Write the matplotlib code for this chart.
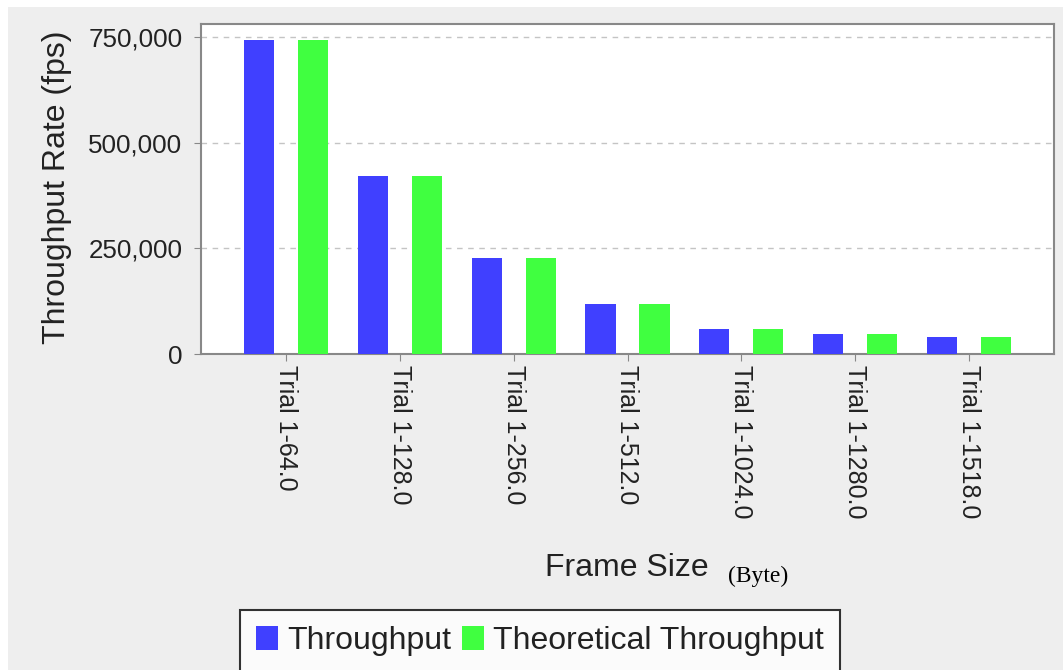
import numpy as np
from matplotlib import pyplot as plt
from matplotlib.patches import Rectangle
from matplotlib.ticker import FuncFormatter

categories = ["Trial 1-64.0", "Trial 1-128.0", "Trial 1-256.0", "Trial 1-512.0",
              "Trial 1-1024.0", "Trial 1-1280.0", "Trial 1-1518.0"]
throughput = [744047, 422297, 226449, 117481, 59866, 48076, 40637]
theoretical = [744047, 422297, 226449, 117481, 59866, 48076, 40637]

plt.rcParams['font.family'] = ['Liberation Sans', 'DejaVu Sans']
txt = '#222222'
W, H = 1063, 670

fig = plt.figure(figsize=(W / 100, H / 100), dpi=100, facecolor='white')
# grey panel with a thin white margin at top and left
fig.patches.append(Rectangle((8 / W, 0), 1 - 8 / W, 1 - 7 / H, transform=fig.transFigure,
                             facecolor='#eeeeee', edgecolor='none', zorder=-10))

ax = fig.add_axes([201 / W, 1 - 354 / H, (1054 - 201) / W, (354 - 24) / H])
ax.set_facecolor('white')

x = np.arange(len(categories))
bw = 0.264
off = 0.2375
ax.bar(x - off, throughput, bw, color='#4040ff', label='Throughput', zorder=3)
ax.bar(x + off, theoretical, bw, color='#40ff40', label='Theoretical Throughput', zorder=3)

ax.set_xlim(-0.75, len(categories) - 0.25)
ax.set_ylim(0, 780757)
ax.set_yticks([0, 250000, 500000, 750000])
ax.yaxis.set_major_formatter(FuncFormatter(lambda v, p: f"{int(v):,}"))
ax.set_xticks(x)
ax.set_xticklabels(categories, rotation=270, ha='center', va='top')

ax.grid(axis='y', color='#c4c4c4', linestyle=(0, (4, 4)), linewidth=1, zorder=0)
for s in ax.spines.values():
    s.set_color('#888888')
    s.set_linewidth(1.5)
ax.tick_params(axis='both', colors='#888888', labelcolor=txt, labelsize=18, length=5)
ax.tick_params(axis='y', pad=8.5, labelsize=18.7)
ax.tick_params(axis='x', pad=3)

fig.text(57 / W, 1 - 187 / H, "Throughput Rate (fps)", rotation=90, ha='center', va='center',
         fontsize=23, color=txt)
fig.text(627 / W, 1 - 568 / H, "Frame Size", ha='center', va='center', fontsize=23, color=txt)
fig.text(728 / W, 1 - 576 / H, "(Byte)", ha='left', va='center', fontsize=17,
         family=['Liberation Serif', 'DejaVu Serif'], color='black')

leg = fig.legend(loc='upper center', bbox_to_anchor=(540 / W, 1 - 610 / H), ncol=2,
                 fontsize=23, frameon=True, fancybox=False, handlelength=0.69,
                 handleheight=0.75, handletextpad=0.28, columnspacing=0.35,
                 borderpad=0.5, borderaxespad=0)
leg.get_frame().set_edgecolor('black')
leg.get_frame().set_linewidth(1.5)
for t in leg.get_texts():
    t.set_color(txt)

fig.savefig("out.png", dpi=100, facecolor=fig.get_facecolor())
